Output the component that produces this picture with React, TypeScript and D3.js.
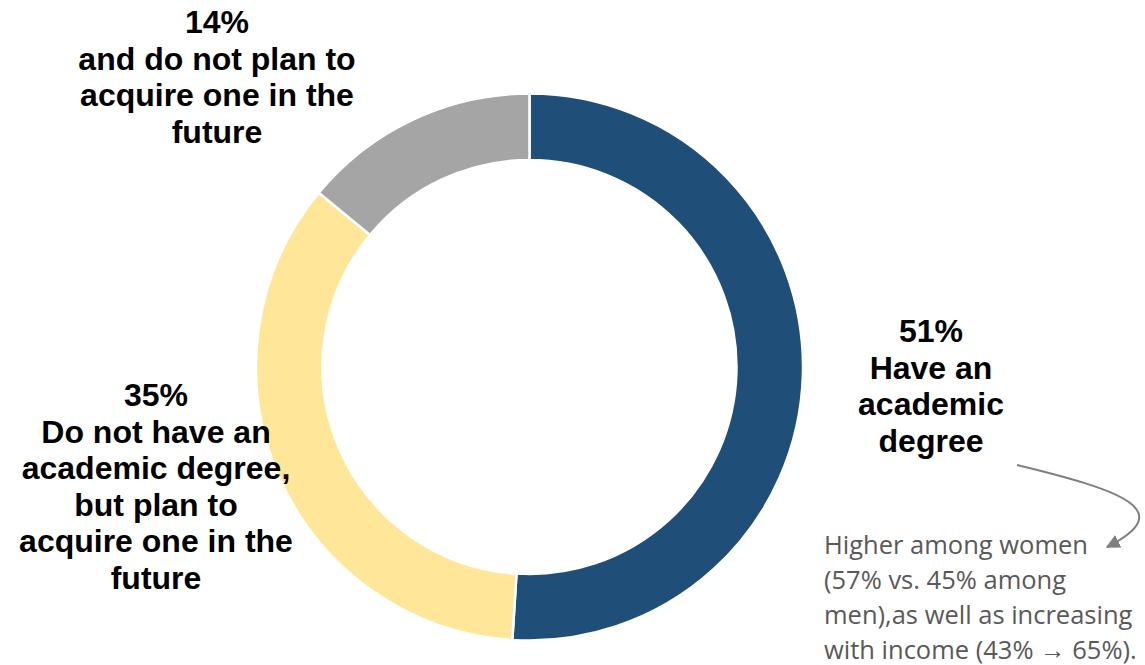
import React from "react";
import * as d3 from "d3";

const categories = ["Have an academic degree", "Do not have an academic degree, but plan to acquire one in the future", "and do not plan to acquire one in the future"];
const values = [51, 35, 14];
const colors = ["#1F4E79", "#FFE699", "#A5A5A5"];

const labelLines = [
  ["51%", "Have an", "academic", "degree"],
  ["35%", "Do not have an", "academic degree,", "but plan to", "acquire one in the", "future"],
  ["14%", "and do not plan to", "acquire one in the", "future"],
];
const labelPos = [
  { x: 931, y: 342 },
  { x: 156, y: 406 },
  { x: 217, y: 33 },
];
const noteLines = ["Higher among women", "(57% vs. 45% among", "men),as well as increasing", "with income (43% \u2192 65%)."];

export default function App() {
  const W = 1145, H = 665;
  const cx = 529.5, cy = 367;
  const outer = 273.5, inner = 207;
  const pie = d3.pie<number>().sort(null).value((d) => d)(values);
  const arc = d3.arc<d3.PieArcDatum<number>>().innerRadius(inner).outerRadius(outer);
  return (
    <svg width={W} height={H} style={{ position: "absolute", left: 0, top: 0 }}>
      <defs>
        <marker id="ah" viewBox="0 0 10 10" refX="9" refY="5" markerWidth="7" markerHeight="7" orient="auto">
          <path d="M0,0 L10,5 L0,10 z" fill="#7F7F7F" />
        </marker>
      </defs>
      <g transform={`translate(${cx},${cy})`}>
        {pie.map((p, i) => (
          <path key={i} d={arc(p) || ""} fill={colors[i]} stroke="#fff" strokeWidth={2.5}>
            <title>{categories[i]}</title>
          </path>
        ))}
      </g>
      {labelLines.map((lines, i) => (
        <text key={i} textAnchor="middle" fontFamily="Liberation Sans, Arial, sans-serif" fontWeight="bold" fontSize={32} fill="#000">
          {lines.map((l, j) => (
            <tspan key={j} x={labelPos[i].x} y={labelPos[i].y + j * 36.5}>{l}</tspan>
          ))}
        </text>
      ))}
      <path d="M1017,465 C1120,490 1180,510 1107,547" fill="none" stroke="#7F7F7F" strokeWidth={2} markerEnd="url(#ah)" />
      <text fontFamily="Open Sans, sans-serif" fontSize={25.5} fill="#595959">
        {noteLines.map((l, j) => (
          <tspan key={j} x={824} y={554 + j * 35}>{l}</tspan>
        ))}
      </text>
    </svg>
  );
}
